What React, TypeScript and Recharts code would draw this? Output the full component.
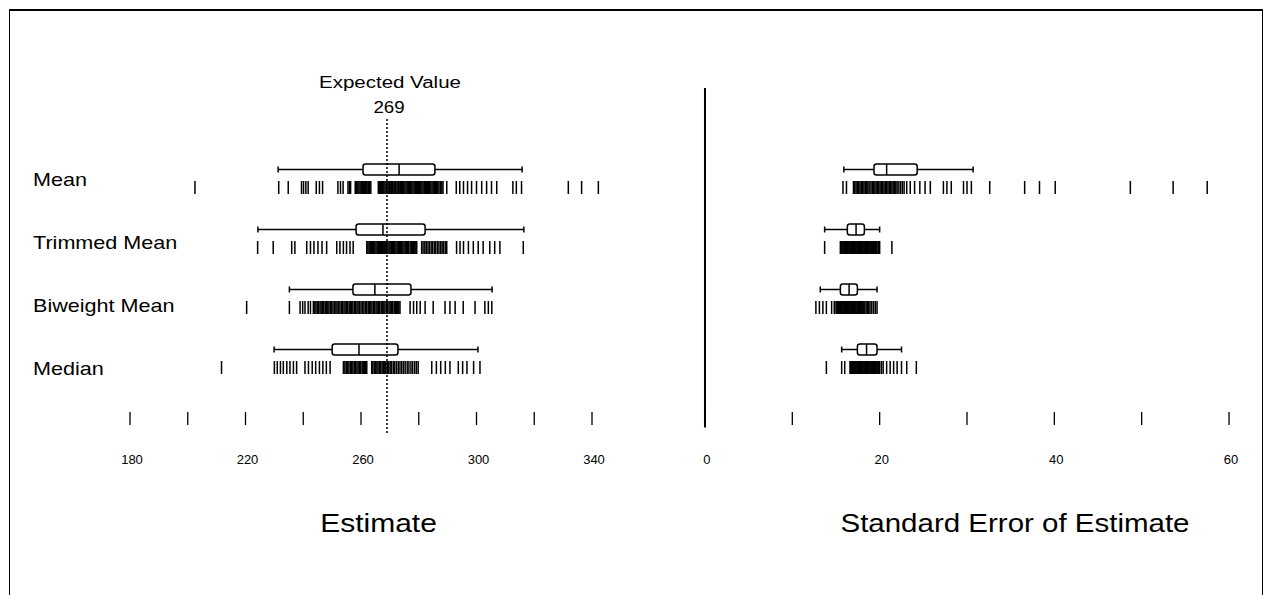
import React from 'react';
import { ComposedChart, Scatter, XAxis, YAxis, ReferenceArea, ReferenceLine } from 'recharts';

// ---------- data ----------
const rowNames = ['Mean', 'Trimmed Mean', 'Biweight Mean', 'Median'];

const estMean = [202.5, 231.5, 234.8, 239.4, 240.1, 240.9, 241.7, 244.5, 245.6, 246.7, 252.0, 252.9, 253.8, 255.5, 256.0, 256.4, 258.0, 258.4, 258.9, 259.3, 259.7, 260.1, 260.5, 260.9, 261.2, 261.6, 262.0, 262.4, 262.7, 263.0, 263.4, 266.0, 266.4, 266.8, 267.1, 267.5, 267.9, 268.3, 268.7, 269.0, 269.4, 269.8, 270.1, 270.5, 270.8, 271.1, 271.5, 271.8, 272.1, 272.5, 272.9, 273.2, 273.6, 274.0, 274.4, 274.8, 275.2, 275.6, 276.0, 276.4, 276.8, 277.2, 277.6, 278.0, 278.4, 278.8, 279.2, 279.5, 279.9, 280.3, 280.7, 281.1, 281.5, 281.9, 282.3, 282.6, 283.0, 283.4, 283.8, 284.2, 284.6, 285.0, 285.4, 285.8, 286.2, 286.6, 287.0, 287.5, 288.0, 288.4, 289.7, 293.0, 294.2, 295.5, 296.9, 298.3, 300.0, 301.8, 303.5, 305.2, 307.0, 312.6, 313.8, 315.6, 331.8, 336.4, 342.2];
const estTrimmed = [224.2, 229.6, 236.0, 237.1, 241.2, 242.5, 243.7, 245.1, 246.5, 248.1, 251.6, 252.7, 253.9, 255.0, 256.2, 257.3, 262.0, 262.4, 262.8, 263.2, 263.6, 264.0, 264.4, 264.8, 265.2, 265.6, 266.0, 266.4, 266.8, 267.1, 267.5, 267.9, 268.2, 268.6, 268.9, 269.3, 269.7, 270.1, 270.5, 270.9, 271.3, 271.7, 272.1, 272.5, 272.9, 273.3, 273.7, 274.1, 274.5, 274.9, 275.3, 275.7, 276.1, 276.5, 277.0, 277.4, 277.9, 278.2, 278.6, 279.0, 279.3, 281.0, 281.5, 282.1, 282.6, 283.2, 283.7, 284.3, 284.8, 285.4, 285.9, 286.5, 287.0, 287.6, 288.1, 288.6, 289.2, 289.7, 293.1, 294.3, 295.5, 297.2, 298.9, 300.6, 302.3, 304.6, 306.3, 308.1, 316.2];
const estBiweight = [220.4, 235.2, 238.9, 239.8, 240.6, 241.7, 242.5, 243.5, 244.0, 244.4, 244.9, 245.3, 245.8, 246.2, 246.7, 247.1, 247.6, 248.0, 248.5, 248.9, 249.4, 249.8, 250.3, 250.8, 251.3, 251.7, 252.2, 252.7, 253.2, 253.6, 254.1, 254.5, 255.0, 255.4, 255.9, 256.3, 256.8, 257.2, 257.7, 258.1, 258.6, 259.0, 259.5, 260.0, 260.5, 261.0, 261.5, 262.0, 262.5, 262.9, 263.4, 263.8, 264.3, 264.7, 265.2, 265.6, 266.1, 266.5, 267.0, 267.4, 267.9, 268.3, 268.8, 269.2, 269.7, 270.1, 270.6, 271.0, 271.5, 271.9, 272.3, 272.7, 273.1, 273.5, 277.0, 278.2, 279.3, 280.5, 282.2, 285.0, 289.1, 290.8, 292.6, 295.4, 299.5, 302.9, 304.1, 305.3];
const estMedian = [211.7, 230.0, 231.0, 232.1, 233.1, 234.3, 235.4, 236.6, 237.7, 240.6, 241.8, 243.1, 244.3, 245.6, 246.8, 248.0, 249.3, 253.9, 254.4, 254.9, 255.3, 255.8, 256.3, 256.8, 257.2, 257.7, 258.1, 258.6, 259.0, 259.5, 259.9, 260.4, 260.8, 261.2, 261.6, 262.0, 263.7, 264.1, 264.6, 265.0, 265.5, 265.9, 266.4, 266.8, 267.3, 267.7, 268.2, 268.6, 269.1, 269.6, 270.1, 270.6, 271.2, 271.7, 272.3, 272.9, 273.5, 274.1, 274.7, 275.3, 276.0, 276.6, 277.3, 277.9, 278.6, 279.2, 279.8, 284.5, 286.1, 287.6, 289.2, 290.8, 293.7, 295.2, 296.7, 299.0, 301.2];

const seMean = [15.8, 16.2, 17.0, 17.15, 17.3, 17.45, 17.6, 17.75, 17.9, 18.05, 18.2, 18.35, 18.5, 18.65, 18.8, 19.0, 19.15, 19.3, 19.45, 19.6, 19.75, 19.9, 20.05, 20.2, 20.35, 20.5, 20.65, 20.8, 20.95, 21.1, 21.25, 21.4, 21.55, 21.7, 21.85, 22.0, 22.2, 22.4, 22.6, 22.8, 23.1, 23.5, 24.0, 24.6, 25.2, 25.8, 27.3, 27.7, 28.2, 29.6, 30.0, 30.5, 32.6, 36.6, 38.3, 40.1, 48.7, 53.6, 57.5];
const seTrimmed = [13.7, 15.5, 15.6, 15.7, 15.8, 15.9, 16.0, 16.1, 16.2, 16.3, 16.4, 16.5, 16.6, 16.7, 16.8, 16.9, 17.0, 17.1, 17.2, 17.3, 17.4, 17.5, 17.6, 17.7, 17.8, 17.9, 18.0, 18.1, 18.2, 18.3, 18.4, 18.5, 18.6, 18.7, 18.8, 18.9, 19.0, 19.1, 19.2, 19.3, 19.4, 19.5, 19.6, 19.7, 19.85, 20.0, 21.4];
const seBiweight = [12.7, 13.1, 13.5, 13.9, 14.5, 14.8, 15.0, 15.1, 15.2, 15.3, 15.4, 15.5, 15.6, 15.7, 15.8, 15.9, 16.0, 16.1, 16.2, 16.3, 16.4, 16.5, 16.6, 16.7, 16.8, 16.9, 17.0, 17.1, 17.2, 17.3, 17.4, 17.5, 17.6, 17.7, 17.8, 17.9, 18.0, 18.15, 18.3, 18.45, 18.6, 18.75, 18.9, 19.1, 19.3, 19.5, 19.7];
const seMedian = [13.9, 15.65, 16.0, 16.6, 16.7, 16.8, 16.9, 17.0, 17.1, 17.2, 17.3, 17.4, 17.5, 17.6, 17.7, 17.8, 17.9, 18.0, 18.1, 18.2, 18.3, 18.4, 18.5, 18.6, 18.7, 18.8, 18.9, 19.0, 19.1, 19.2, 19.3, 19.4, 19.5, 19.6, 19.7, 19.8, 19.9, 20.0, 20.2, 20.4, 20.8, 21.2, 21.6, 22.0, 22.5, 23.1, 24.2];

// box summaries: [low whisker, q1, median, q3, high whisker]
const estBoxMean = [231.3, 260.7, 273.2, 285.6, 315.8];
const estBoxTrimmed = [224.3, 258.3, 267.6, 282.2, 316.4];
const estBoxBiweight = [235.2, 257.2, 264.8, 277.3, 305.4];
const estBoxMedian = [229.9, 250.0, 259.3, 272.8, 300.5];

const seBoxMean = [15.9, 19.35, 20.8, 24.3, 30.7];
const seBoxTrimmed = [13.7, 16.3, 17.3, 18.25, 20.0];
const seBoxBiweight = [13.2, 15.5, 16.5, 17.45, 19.7];
const seBoxMedian = [15.65, 17.45, 18.5, 19.7, 22.5];

const estTicks = [180, 200, 220, 240, 260, 280, 300, 320, 340];
const estTickLabels = [180, 220, 260, 300, 340];
const seTicks = [0, 10, 20, 30, 40, 50, 60];
const seTickLabels = [0, 20, 40, 60];
const expectedValue = 269;

const estStrips = [estMean, estTrimmed, estBiweight, estMedian];
const seStrips = [seMean, seTrimmed, seBiweight, seMedian];
const estBoxes = [estBoxMean, estBoxTrimmed, estBoxBiweight, estBoxMedian];
const seBoxes = [seBoxMean, seBoxTrimmed, seBoxBiweight, seBoxMedian];

// ---------- style ----------
const FONT = '"Liberation Sans", Arial, Helvetica, sans-serif';
const W = 1254;
const H = 587;
const BOX_OFF = 0.3;
const BOX_HALF = 0.092;
const CAP_HALF = 0.05;

const SText = ({ x, y, size, anchor = 'middle', sx = 1.2, children }: any) => (
  <text
    transform={`translate(${x},${y}) scale(${sx},1)`}
    textAnchor={anchor}
    fontFamily={FONT}
    fontSize={size}
    fill="#000"
  >
    {children}
  </text>
);

const makeTick = (labels: number[]) => (props: any) => {
  const { x, y, payload } = props;
  const v = payload.value;
  return (
    <g>
      <line x1={x} x2={x} y1={y - 21} y2={y - 8} stroke="#000" strokeWidth={1.3} />
      {labels.includes(v) && (
        <SText x={x + 2} y={y + 31} size={13} sx={1.0}>
          {v}
        </SText>
      )}
    </g>
  );
};

const RowLabel = (props: any) => {
  const { y, payload } = props;
  return (
    <SText x={25} y={y - 1 + 2.7 * payload.value} size={18} anchor="start" sx={1.2}>
      {rowNames[payload.value]}
    </SText>
  );
};

const StripTick = (props: any) => {
  const { cx, cy } = props;
  return <line x1={cx} x2={cx} y1={cy - 6.5} y2={cy + 6.5} stroke="#000" strokeWidth={1.5} />;
};

const BoxRect = (p: any) => (
  <rect x={p.x} y={p.y} width={p.width} height={p.height} rx={2.5} fill="#fff" stroke="#000" strokeWidth={1.5} />
);

const axisTitle = (text: string, dx: number, sx: number) => (props: any) => {
  const vb = props.viewBox || {};
  return (
    <SText x={vb.x + vb.width / 2 + dx} y={vb.y + 99} size={25} sx={sx}>
      {text}
    </SText>
  );
};

const expectedLabel = (props: any) => {
  const vb = props.viewBox || {};
  return (
    <g>
      <SText x={vb.x + 3} y={vb.y - 30} size={16} sx={1.28}>
        Expected Value
      </SText>
      <SText x={vb.x + 2} y={vb.y - 5} size={17} sx={1.1}>
        {expectedValue}
      </SText>
    </g>
  );
};

const toPoints = (vals: number[], row: number) => vals.map((v) => ({ x: v, y: row }));

const renderBoxes = (boxes: number[][], prefix: string) =>
  boxes.map((b, row) => {
    const [lo, q1, med, q3, hi] = b;
    const yc = row - BOX_OFF;
    const ln = { stroke: '#000', strokeWidth: 1.5, ifOverflow: 'visible' as const };
    return (
      <React.Fragment key={prefix + row}>
        <ReferenceLine segment={[{ x: lo, y: yc }, { x: q1, y: yc }]} {...ln} />
        <ReferenceLine segment={[{ x: q3, y: yc }, { x: hi, y: yc }]} {...ln} />
        <ReferenceLine segment={[{ x: lo, y: yc - CAP_HALF }, { x: lo, y: yc + CAP_HALF }]} {...ln} />
        <ReferenceLine segment={[{ x: hi, y: yc - CAP_HALF }, { x: hi, y: yc + CAP_HALF }]} {...ln} />
        <ReferenceArea x1={q1} x2={q3} y1={yc - BOX_HALF} y2={yc + BOX_HALF} shape={BoxRect} ifOverflow="visible" />
        <ReferenceLine segment={[{ x: med, y: yc - BOX_HALF }, { x: med, y: yc + BOX_HALF }]} {...ln} />
      </React.Fragment>
    );
  });

export default function App() {
  return (
    <div style={{ position: 'absolute', left: 8, top: 8, width: W + 2, height: H, overflow: 'hidden', background: '#fff' }}>
      <div
        style={{
          position: 'absolute',
          left: 1,
          top: 1,
          width: W,
          height: 640,
          boxSizing: 'border-box',
          borderTop: '2px solid #000',
          borderLeft: '1.5px solid #000',
          borderRight: '1.5px solid #000',
        }}
      />
      {/* Left panel: Estimate */}
      <div style={{ position: 'absolute', left: 0, top: 0 }}>
        <ComposedChart width={W} height={H} margin={{ top: 110, right: 641.125, bottom: 102, left: 13.125 }}>
          <XAxis
            type="number"
            dataKey="x"
            domain={[170, 350]}
            allowDataOverflow
            ticks={estTicks}
            interval={0}
            axisLine={false}
            tickLine={false}
            tickSize={0}
            tickMargin={0}
            height={60}
            tick={makeTick(estTickLabels)}
            label={axisTitle('Estimate', 17.5, 1.2)}
          />
          <YAxis
            type="number"
            dataKey="y"
            domain={[-1.1583, 4.0917]}
            allowDataOverflow
            reversed
            ticks={[0, 1, 2, 3]}
            interval={0}
            width={80}
            axisLine={false}
            tickLine={false}
            tick={RowLabel}
          />
          {estStrips.map((vals, row) => (
            <Scatter key={'es' + row} data={toPoints(vals, row)} shape={StripTick} isAnimationActive={false} />
          ))}
          {renderBoxes(estBoxes, 'eb')}
          <ReferenceLine
            x={expectedValue}
            stroke="#000"
            strokeWidth={1.5}
            strokeDasharray="2 2"
            label={expectedLabel}
          />
        </ComposedChart>
      </div>
      {/* Right panel: Standard Error */}
      <div style={{ position: 'absolute', left: 0, top: 0 }}>
        <ComposedChart width={W} height={H} margin={{ top: 80, right: 15.5, bottom: 102, left: 679.5 }}>
          <XAxis
            type="number"
            dataKey="x"
            domain={[-2, 62]}
            allowDataOverflow
            ticks={seTicks}
            interval={0}
            axisLine={false}
            tickLine={false}
            tickSize={0}
            tickMargin={0}
            height={60}
            tick={makeTick(seTickLabels)}
            label={axisTitle('Standard Error of Estimate', 48, 1.18)}
          />
          <YAxis type="number" dataKey="y" domain={[-1.6583, 4.0917]} allowDataOverflow reversed hide />
          <ReferenceLine segment={[{ x: 0, y: -1.6583 }, { x: 0, y: 4.0 }]} stroke="#000" strokeWidth={2} ifOverflow="visible" />
          {seStrips.map((vals, row) => (
            <Scatter key={'ss' + row} data={toPoints(vals, row)} shape={StripTick} isAnimationActive={false} />
          ))}
          {renderBoxes(seBoxes, 'sb')}
        </ComposedChart>
      </div>
    </div>
  );
}
